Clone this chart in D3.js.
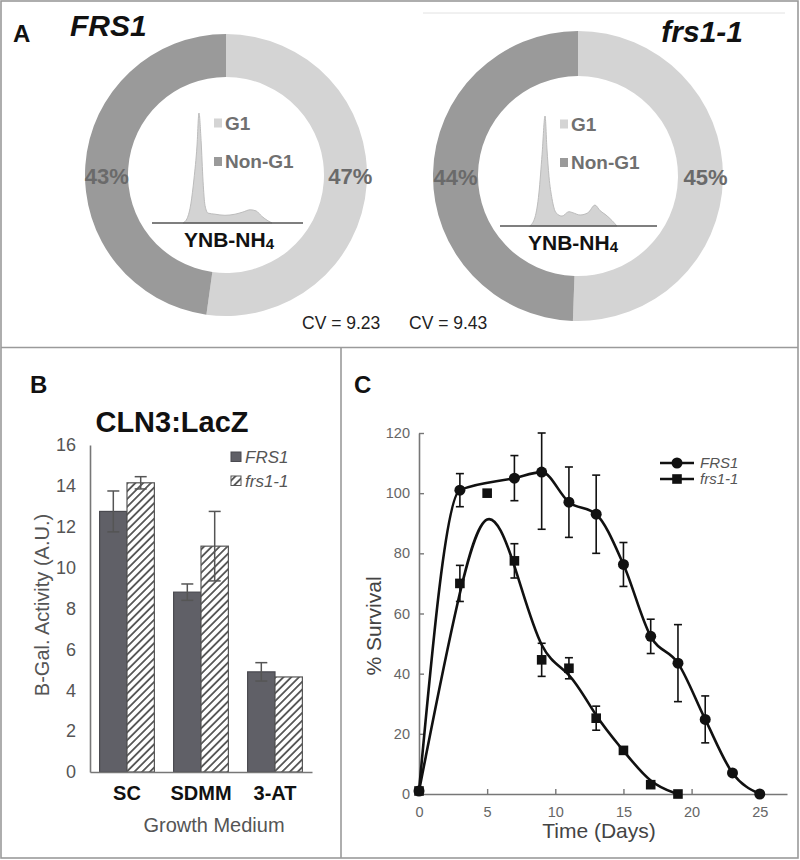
<!DOCTYPE html>
<html><head><meta charset="utf-8">
<script src="https://cdn.jsdelivr.net/npm/d3@7"></script>
<style>
body{margin:0;background:#fff}
svg{display:block;font-family:"Liberation Sans",Arial,Helvetica,sans-serif}
</style>
</head><body>
<svg id="chart" width="800" height="860"></svg>
<script>
// ---------------- Panel A data ----------------
const donutGenotypes = ["FRS1", "frs1-1"];
const phaseLabels = ["G1", "Non-G1"];
const g1Percent = [47, 45];
const nonG1Percent = [43, 44];
const cvValues = ["9.23", "9.43"];
const histChannelWT = [20.5,23.2,25.8,27.8,29.8,31.1,32.5,33.8,35.1,37.1,41.7,48.3,55,60.3,65,68.9,72.8,76.8,79.5];
const histCountWT   = [0,4,18,40,70,100,75,38,16,9,8,7,8,10,12,11,6,2,0];
const histChannelMut = [19,22.3,24.8,26.8,28.7,29.9,31.2,33.1,35.7,39.5,43.9,46.5,51,56,60.5,63.7,67.5,71.3,74.5];
const histCountMut   = [0,8,30,65,100,70,45,25,12,9,13,12,10,12,19,14,10,5,0];
const histMediumLabel = "YNB-NH";
const histMediumSub = "4";

// ---------------- Panel B data ----------------
const media = ["SC", "SDMM", "3-AT"];
const barSeries = ["FRS1", "frs1-1"];
const lacZFRS1 = [12.75, 8.8, 4.9];
const lacZFRS1Err = [1.0, 0.4, 0.45];
const lacZfrs11 = [14.15, 11.05, 4.65];
const lacZfrs11Err = [0.3, 1.7, 0];
const bTicks = [0, 2, 4, 6, 8, 10, 12, 14, 16];

// ---------------- Panel C data ----------------
const daysFRS1 = [0, 3, 7, 9, 11, 13, 15, 17, 19, 21, 23, 25];
const survFRS1 = [1, 101, 105, 107, 97, 93, 76.3, 52.4, 43.5, 24.8, 7, 0];
const survFRS1Err = [0, 5.5, 7.5, 19, 11.7, 13, 7.3, 5.7, 12.8, 7.8, 0, 0];
const daysfrs11 = [0, 3, 5, 7, 9, 11, 13, 15, 17, 19];
const survfrs11 = [1, 70, 100, 77.5, 44.6, 41.8, 25.2, 14.5, 3.1, 0];
const survfrs11Err = [0, 6, 0, 5.7, 5.5, 3.5, 4, 0, 0, 0];
const cTicksX = [0, 5, 10, 15, 20, 25];
const cTicksY = [0, 20, 40, 60, 80, 100, 120];

// ---------------- Drawing ----------------
const svg = d3.select("#chart");
const FONT = '"Liberation Sans",Arial,Helvetica,sans-serif';

svg.append("rect").attr("width", 800).attr("height", 860).attr("fill", "#fff");

// frames
const frame = svg.append("g").attr("stroke", "#9a9a9a").attr("stroke-width", 1.6).attr("fill", "none");
frame.append("rect").attr("x", 1).attr("y", 1).attr("width", 797).attr("height", 857);
frame.append("line").attr("x1", 1).attr("x2", 798).attr("y1", 347.5).attr("y2", 347.5);
frame.append("line").attr("x1", 341).attr("x2", 341).attr("y1", 347.5).attr("y2", 858);
svg.append("line").attr("x1", 423).attr("x2", 785).attr("y1", 13).attr("y2", 13)
  .attr("stroke", "#e2e2e2").attr("stroke-width", 1);

// ===== Panel A =====
const LIGHT = "#d4d4d4", DARK = "#9a9a9a";
const donutLayout = [
  {cx: 226, cy: 175, R: 141, r: 98, legX: -12, medX: 3, medY: 72, histL: -74, histR: 77, histY: 48},
  {cx: 578, cy: 176, R: 145, r: 100, legX: -18, medX: -5, medY: 74, histL: -78, histR: 79, histY: 50}
];
const histChannels = [histChannelWT, histChannelMut];
const histCounts = [histCountWT, histCountMut];

svg.append("text").attr("x", 13).attr("y", 42).text("A")
  .attr("font-size", 24).attr("font-weight", "bold").attr("fill", "#111");
svg.append("text").attr("x", 70).attr("y", 36).text(donutGenotypes[0])
  .attr("font-size", 30).attr("font-weight", "bold").attr("font-style", "italic").attr("fill", "#111");
svg.append("text").attr("x", 743).attr("y", 42).attr("text-anchor", "end").text(donutGenotypes[1])
  .attr("font-size", 30).attr("font-weight", "bold").attr("font-style", "italic").attr("fill", "#111");

const pie = d3.pie().sort(null).value(d => d.v);
donutLayout.forEach((L, i) => {
  const g = svg.append("g").attr("transform", `translate(${L.cx},${L.cy})`);
  const data = [{v: g1Percent[i], c: LIGHT}, {v: nonG1Percent[i], c: DARK}];
  const arcs = pie(data);
  const arc = d3.arc().innerRadius(L.r).outerRadius(L.R);
  g.selectAll("path.slice").data(arcs).join("path").attr("class", "slice")
    .attr("d", arc).attr("fill", d => d.data.c);
  g.selectAll("text.pct").data(arcs).join("text").attr("class", "pct")
    .attr("x", d => arc.centroid(d)[0] + (d.index === 0 ? 5 : 0))
    .attr("y", 9)
    .attr("text-anchor", "middle")
    .attr("font-size", 22).attr("font-weight", "bold").attr("fill", "#6a6a6a")
    .text(d => d.data.v + "%");

  // histogram inset
  const hx = d3.scaleLinear().domain([0, 100]).range([L.histL, L.histR]);
  const hy = d3.scaleLinear().domain([0, 100]).range([L.histY, L.histY - 110]);
  const pts = histChannels[i].map((c, k) => [c, histCounts[i][k]]);
  g.append("path").datum(pts)
    .attr("d", d3.area().x(d => hx(d[0])).y0(hy(0)).y1(d => hy(d[1])).curve(d3.curveMonotoneX))
    .attr("fill", "#d3d3d3").attr("stroke", "#bcbcbc").attr("stroke-width", 1);
  g.append("line").attr("x1", hx(0)).attr("x2", hx(100)).attr("y1", hy(0)).attr("y2", hy(0))
    .attr("stroke", "#555").attr("stroke-width", 1.6);

  // legend
  const legColors = [LIGHT, DARK];
  phaseLabels.forEach((lab, k) => {
    const ly = -52 + k * 38.5;
    g.append("rect").attr("x", L.legX).attr("y", ly - 4.5).attr("width", 8).attr("height", 9).attr("fill", legColors[k]);
    g.append("text").attr("x", L.legX + 11).attr("y", ly + 6.5).text(lab)
      .attr("font-size", 19).attr("font-weight", "bold").attr("fill", "#707070");
  });

  // medium label
  const t = g.append("text").attr("x", L.medX).attr("y", L.medY).attr("text-anchor", "middle")
    .attr("font-size", 21).attr("font-weight", "bold").attr("fill", "#111");
  t.append("tspan").text(histMediumLabel);
  t.append("tspan").attr("font-size", 15).attr("dy", 2).text(histMediumSub);
});

svg.append("text").attr("x", 302).attr("y", 329).text("CV = " + cvValues[0]).attr("font-size", 17.5).attr("fill", "#222");
svg.append("text").attr("x", 409).attr("y", 329).text("CV = " + cvValues[1]).attr("font-size", 17.5).attr("fill", "#222");

// ===== Panel B =====
const BAR_DARK = "#606067", GRAYTXT = "#555";
const defs = svg.append("defs");
const pat = defs.append("pattern").attr("id", "hatch").attr("patternUnits", "userSpaceOnUse")
  .attr("width", 5.5).attr("height", 5.5).attr("patternTransform", "rotate(45)");
pat.append("rect").attr("width", 5.5).attr("height", 5.5).attr("fill", "#fff");
pat.append("line").attr("x1", 2.75).attr("x2", 2.75).attr("y1", 0).attr("y2", 5.5)
  .attr("stroke", "#555").attr("stroke-width", 1.8);

svg.append("text").attr("x", 30).attr("y", 393).text("B").attr("font-size", 24).attr("font-weight", "bold").attr("fill", "#111");
svg.append("text").attr("x", 172).attr("y", 432).attr("text-anchor", "middle").text("CLN3:LacZ")
  .attr("font-size", 29).attr("font-weight", "bold").attr("fill", "#111");

const xB = d3.scaleBand().domain(media).range([90, 312]).paddingInner(0.26).paddingOuter(0.13);
const xBin = d3.scaleBand().domain(barSeries).range([0, xB.bandwidth()]);
const yB = d3.scaleLinear().domain([0, 16]).range([772, 445]);

const bVals = [lacZFRS1, lacZfrs11];
const bErrs = [lacZFRS1Err, lacZfrs11Err];
const bFills = [BAR_DARK, "url(#hatch)"];
const bStroke = ["#4a4a50", "#555"];
barSeries.forEach((s, si) => {
  svg.append("g").selectAll("rect").data(media).join("rect")
    .attr("x", m => xB(m) + xBin(s))
    .attr("y", (m, k) => yB(bVals[si][k]))
    .attr("width", xBin.bandwidth())
    .attr("height", (m, k) => yB(0) - yB(bVals[si][k]))
    .attr("fill", bFills[si]).attr("stroke", bStroke[si]).attr("stroke-width", 1.2);
});
barSeries.forEach((s, si) => {
  const eg = svg.append("g").attr("stroke", "#555").attr("stroke-width", 1.5);
  media.forEach((m, k) => {
    const e = bErrs[si][k];
    if (!e) return;
    const cx = xB(m) + xBin(s) + xBin.bandwidth() / 2;
    const y1 = yB(bVals[si][k] + e), y2 = yB(bVals[si][k] - e);
    eg.append("line").attr("x1", cx).attr("x2", cx).attr("y1", y1).attr("y2", y2);
    eg.append("line").attr("x1", cx - 6).attr("x2", cx + 6).attr("y1", y1).attr("y2", y1);
    eg.append("line").attr("x1", cx - 6).attr("x2", cx + 6).attr("y1", y2).attr("y2", y2);
  });
});

const yAxB = svg.append("g").attr("transform", "translate(90,0)")
  .call(d3.axisLeft(yB).tickValues(bTicks).tickSize(0).tickSizeOuter(0).tickPadding(14));
yAxB.select(".domain").attr("stroke", "#777").attr("stroke-width", 1.6);
yAxB.selectAll("text").attr("font-size", 18).attr("fill", GRAYTXT).attr("font-family", FONT);

const xAxB = svg.append("g").attr("transform", "translate(0,772)")
  .call(d3.axisBottom(xB).tickSize(0).tickSizeOuter(0).tickPadding(14));
xAxB.select(".domain").attr("stroke", "#777").attr("stroke-width", 1.6);
xAxB.selectAll("text").attr("font-size", 20).attr("font-weight", "bold").attr("fill", "#111").attr("font-family", FONT);

svg.append("text").attr("transform", "translate(49,605) rotate(-90)").attr("text-anchor", "middle")
  .text("B-Gal. Activity (A.U.)").attr("font-size", 20).attr("fill", GRAYTXT);
svg.append("text").attr("x", 214).attr("y", 832).attr("text-anchor", "middle")
  .text("Growth Medium").attr("font-size", 20).attr("fill", GRAYTXT);

barSeries.forEach((s, si) => {
  const ly = 452 + si * 24;
  svg.append("rect").attr("x", 231).attr("y", ly).attr("width", 10).attr("height", 9.5)
    .attr("fill", bFills[si]).attr("stroke", bStroke[si]).attr("stroke-width", 1);
  svg.append("text").attr("x", 245).attr("y", ly + 11).text(s)
    .attr("font-size", 17).attr("font-style", "italic").attr("fill", GRAYTXT);
});

// ===== Panel C =====
svg.append("text").attr("x", 354).attr("y", 393).text("C").attr("font-size", 24).attr("font-weight", "bold").attr("fill", "#111");

const xC = d3.scaleLinear().domain([0, 27]).range([419, 787]);
const yC = d3.scaleLinear().domain([0, 120]).range([794, 433]);

const yAxC = svg.append("g").attr("transform", "translate(419,0)")
  .call(d3.axisLeft(yC).tickValues(cTicksY).tickSize(-5).tickSizeOuter(0).tickPadding(9));
const xAxC = svg.append("g").attr("transform", "translate(0,794)")
  .call(d3.axisBottom(xC).tickValues(cTicksX).tickSize(-5).tickSizeOuter(0).tickPadding(13));
[yAxC, xAxC].forEach(a => {
  a.select(".domain").attr("stroke", "#777").attr("stroke-width", 1.6);
  a.selectAll(".tick line").attr("stroke", "#777").attr("stroke-width", 1.4);
  a.selectAll("text").attr("font-size", 14.5).attr("fill", "#666").attr("font-family", FONT);
});

svg.append("text").attr("transform", "translate(381,626) rotate(-90)").attr("text-anchor", "middle")
  .text("% Survival").attr("font-size", 21).attr("fill", "#444");
svg.append("text").attr("x", 599).attr("y", 838).attr("text-anchor", "middle")
  .text("Time (Days)").attr("font-size", 21).attr("fill", "#444");

const seriesC = [
  {name: "FRS1", days: daysFRS1, vals: survFRS1, errs: survFRS1Err, shape: "circle", curve: d3.curveMonotoneX},
  {name: "frs1-1", days: daysfrs11, vals: survfrs11, errs: survfrs11Err, shape: "square", curve: d3.curveBasis}
];
seriesC.forEach(s => {
  const pts = s.days.map((d, k) => [d, s.vals[k]]);
  const lineC = d3.line().x(d => xC(d[0])).y(d => yC(d[1])).curve(s.curve);
  svg.append("path").datum(pts).attr("d", lineC).attr("fill", "none")
    .attr("stroke", "#111").attr("stroke-width", 2.6);
});
seriesC.forEach(s => {
  const eg = svg.append("g").attr("stroke", "#111").attr("stroke-width", 1.6);
  s.days.forEach((d, k) => {
    const e = s.errs[k];
    if (!e) return;
    const x = xC(d);
    const top = Math.min(s.vals[k] + e, 120), bot = Math.max(s.vals[k] - e, 0);
    eg.append("line").attr("x1", x).attr("x2", x).attr("y1", yC(top)).attr("y2", yC(bot));
    eg.append("line").attr("x1", x - 4).attr("x2", x + 4).attr("y1", yC(top)).attr("y2", yC(top));
    eg.append("line").attr("x1", x - 4).attr("x2", x + 4).attr("y1", yC(bot)).attr("y2", yC(bot));
  });
});
function drawMarker(g, shape, x, y) {
  if (shape === "circle") g.append("circle").attr("cx", x).attr("cy", y).attr("r", 5.5).attr("fill", "#111");
  else g.append("rect").attr("x", x - 4.8).attr("y", y - 4.8).attr("width", 9.6).attr("height", 9.6).attr("fill", "#111");
}
seriesC.forEach(s => {
  const mg = svg.append("g");
  s.days.forEach((d, k) => drawMarker(mg, s.shape, xC(d), yC(s.vals[k])));
});

// legend C
seriesC.forEach((s, i) => {
  const ly = 463 + i * 16;
  svg.append("line").attr("x1", 660).attr("x2", 694).attr("y1", ly).attr("y2", ly)
    .attr("stroke", "#111").attr("stroke-width", 2.4);
  const mg = svg.append("g");
  drawMarker(mg, s.shape, 677, ly);
  svg.append("text").attr("x", 700).attr("y", ly + 5).text(s.name)
    .attr("font-size", 15).attr("font-style", "italic").attr("fill", "#555");
});
</script>
</body></html>
